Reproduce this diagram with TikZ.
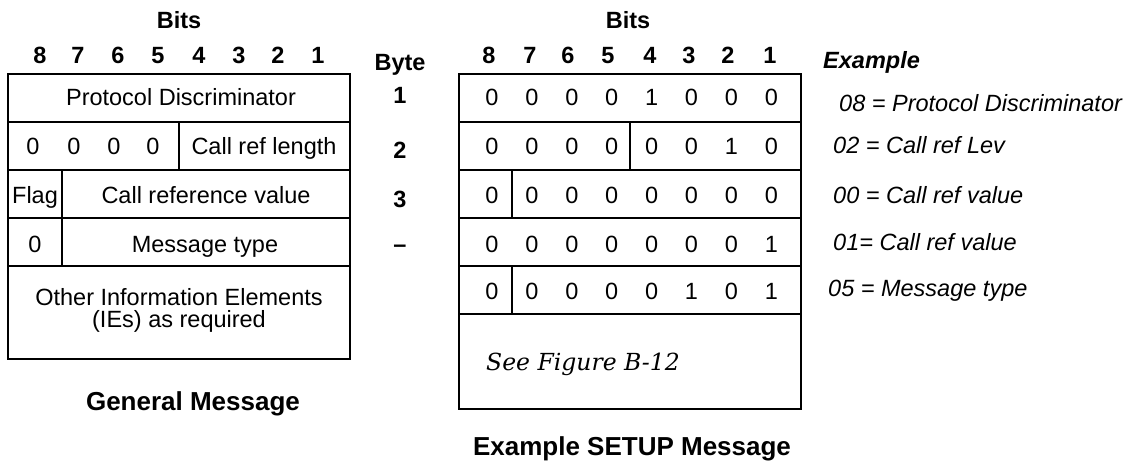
\documentclass[tikz,border=0pt]{standalone}
\usepackage{fontspec}
\setmainfont{Liberation Sans}
\newfontfamily\schfont{DejaVu Serif}
\begin{document}
\begin{tikzpicture}[x=1pt,y=-1pt,
  txt/.style={anchor=base,inner sep=0pt,font=\fontsize{23.5}{28}\selectfont},
  hdr/.style={anchor=base,inner sep=0pt,font=\fontsize{23.5}{28}\selectfont\bfseries},
  ttl/.style={anchor=base,inner sep=0pt,font=\fontsize{26}{30}\selectfont\bfseries},
  ex/.style={anchor=base west,inner sep=0pt,font=\fontsize{23.5}{28}\selectfont\itshape},
  exh/.style={anchor=base west,inner sep=0pt,font=\fontsize{23.5}{28}\selectfont\bfseries\itshape},
  see/.style={anchor=base west,inner sep=0pt,font=\fontsize{23.5}{28}\selectfont\schfont\itshape},
  grid/.style={line width=2.5pt}]
\useasboundingbox (0,0) rectangle (1136,466);

% ---------- left table: General Message ----------
\node[hdr] (lbits) at (179,28) {Bits};
\foreach \b/\x in {8/40,7/78,6/118,5/158,4/199,3/239,2/278,1/318}
  \node[hdr] (lb\b) at (\x,63) {\b};
\draw[grid] (8,74) rectangle (350,359);
\foreach \y in {122,170,218,266}
  \draw[grid] (8,\y) -- (350,\y);
\draw[grid] (179,122) -- (179,170);
\draw[grid] (62,170) -- (62,266);
\node[txt] (lpd) at (181,105) {Protocol Discriminator};
\foreach \i/\x in {1/33,2/74,3/114,4/153}
  \node[txt] (lz\i) at (\x,154) {0};
\node[txt] (lcrl) at (264,154) {Call ref length};
\node[txt] (lflag) at (35,203) {Flag};
\node[txt] (lcrv) at (206,203) {Call reference value};
\node[txt] (lz5) at (35,252) {0};
\node[txt] (lmt) at (205,252) {Message type};
\node[txt] (loie1) at (179,305) {Other Information Elements};
\node[txt] (loie2) at (179,327) {(IEs) as required};
\node[ttl] (lttl) at (193,410) {General Message};

% ---------- byte column ----------
\node[hdr] (byte) at (400,70) {Byte};
\node[hdr] (by1) at (400,103) {1};
\node[hdr] (by2) at (400,158) {2};
\node[hdr] (by3) at (400,207) {3};
\node[hdr] (by4) at (400,252) {--};

% ---------- right table: Example SETUP Message ----------
\node[hdr] (rbits) at (628,28) {Bits};
\foreach \b/\x in {8/489,7/530,6/568,5/608,4/650,3/689,2/728,1/770}
  \node[hdr] (rb\b) at (\x,63) {\b};
\draw[grid] (459,74) rectangle (801,409);
\foreach \y in {122,170,218,266,314}
  \draw[grid] (459,\y) -- (801,\y);
\draw[grid] (630,122) -- (630,170);
\draw[grid] (512,170) -- (512,218);
\draw[grid] (512,266) -- (512,314);
\foreach \r/\yb/\bits in {1/105/{0,0,0,0,1,0,0,0},2/154/{0,0,0,0,0,0,1,0},3/203/{0,0,0,0,0,0,0,0},4/252/{0,0,0,0,0,0,0,1},5/299/{0,0,0,0,0,1,0,1}}{
  \foreach \v [count=\c] in \bits {
    \pgfmathsetmacro{\xx}{492+39.9*(\c-1)}
    \node[txt] (d\r-\c) at (\xx,\yb) {\v};
  }
}
\node[see] (seefig) at (486,370) {See Figure B-12};
\node[ttl] (rttl) at (632,455) {Example SETUP Message};

% ---------- example column ----------
\node[exh] (exhdr) at (823,68) {Example};
\node[ex] (ex1) at (839,111) {08 = Protocol Discriminator};
\node[ex] (ex2) at (833,153) {02 = Call ref Lev};
\node[ex] (ex3) at (833,203) {00 = Call ref value};
\node[ex] (ex4) at (833,250) {01= Call ref value};
\node[ex] (ex5) at (828,296) {05 = Message type};
\end{tikzpicture}
\end{document}
